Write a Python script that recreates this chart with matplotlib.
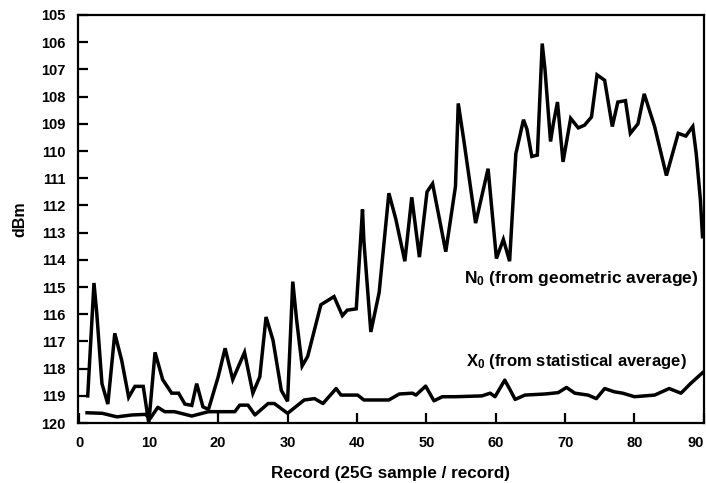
import matplotlib
matplotlib.use("Agg")
import matplotlib.pyplot as plt

plt.rcParams['font.family'] = ['Liberation Sans', 'DejaVu Sans']
plt.rcParams['font.weight'] = 'bold'
plt.rcParams['mathtext.default'] = 'regular'

# N0 trace (geometric average), record number vs dBm
n0_rec = [1.2, 2.1, 2.5, 3.25, 4.1, 5.1, 6.1, 7.1, 8.0, 9.2, 10.0, 10.9, 12.0,
          13.3, 14.3, 15.2, 16.2, 16.9, 17.8, 18.6, 20.0, 21.0, 22.1, 23.8,
          25.0, 26.0, 26.9, 27.9, 29.1, 30.0, 30.75, 31.3, 32.1, 32.9, 34.8,
          36.7, 37.9, 38.6, 39.9, 40.8, 41.0, 42.0, 43.2, 44.6, 45.6, 46.9,
          47.9, 49.0, 50.1, 50.9, 52.8, 54.2, 54.6, 55.4, 57.1, 58.9, 60.1,
          61.1, 62.0, 62.9, 64.0, 64.5, 65.2, 66.0, 66.7, 67.1, 67.9, 68.3,
          68.9, 69.7, 70.8, 71.9, 72.8, 73.8, 74.6, 75.7, 76.8, 77.6, 78.7,
          79.4, 80.5, 81.4, 82.9, 84.6, 86.3, 87.4, 88.4, 88.9, 89.5, 89.8]
n0_dbm = [119.0, 114.85, 115.95, 118.55, 119.3, 116.7, 117.7, 119.05, 118.65,
          118.65, 120.0, 117.4, 118.4, 118.9, 118.9, 119.3, 119.35, 118.55,
          119.4, 119.5, 118.3, 117.25, 118.4, 117.4, 118.9, 118.3, 116.1,
          116.95, 118.8, 119.2, 114.8, 116.2, 117.9, 117.55, 115.65, 115.35,
          116.05, 115.85, 115.8, 112.15, 113.3, 116.65, 115.2, 111.55, 112.5,
          114.05, 111.7, 113.9, 111.5, 111.2, 113.7, 111.3, 108.25, 109.6,
          112.65, 110.65, 113.95, 113.25, 114.05, 110.1, 108.85, 109.2, 110.2,
          110.15, 106.05, 107.0, 109.65, 109.0, 108.2, 110.4, 108.8, 109.15,
          109.05, 108.75, 107.2, 107.4, 109.1, 108.2, 108.15, 109.35, 109.0,
          107.9, 109.1, 110.9, 109.35, 109.45, 109.1, 110.1, 111.8, 113.15]

# X0 trace (statistical average)
x0_rec = [1.1, 3.3, 5.4, 7.6, 9.5, 10.2, 11.3, 12.3, 13.7, 16.2, 18.6, 22.4,
          23.1, 24.3, 25.3, 27.2, 28.1, 30.0, 32.4, 33.9, 35.1, 37.0, 37.7,
          40.1, 41.0, 44.6, 46.1, 48.0, 48.5, 49.9, 51.1, 52.3, 54.2, 58.0,
          59.2, 59.9, 61.3, 62.1, 62.8, 64.2, 67.1, 69.0, 70.2, 71.4, 73.3,
          74.5, 75.7, 77.1, 78.3, 80.0, 82.9, 85.0, 86.7, 88.1, 89.8]
x0_dbm = [119.62, 119.64, 119.77, 119.7, 119.68, 119.83, 119.42, 119.58,
          119.58, 119.74, 119.58, 119.58, 119.34, 119.34, 119.7, 119.28,
          119.28, 119.64, 119.15, 119.1, 119.28, 118.73, 118.97, 118.97,
          119.15, 119.15, 118.93, 118.9, 118.97, 118.64, 119.18, 119.03,
          119.03, 119.0, 118.9, 119.03, 118.42, 118.79, 119.13, 118.97,
          118.93, 118.88, 118.69, 118.9, 118.97, 119.1, 118.73, 118.85,
          118.9, 119.03, 118.97, 118.73, 118.9, 118.54, 118.15]

y_ticks = list(range(105, 121))
x_ticks = list(range(0, 91, 10))

fig = plt.figure(figsize=(7.06, 4.83), dpi=100)
ax = fig.add_axes([0.1105, 0.124, 0.8865, 0.845])

ax.plot(n0_rec, n0_dbm, color='black', linewidth=2.5, solid_joinstyle='miter')
ax.plot(x0_rec, x0_dbm, color='black', linewidth=2.5)

ax.set_xlim(-0.2, 89.8)
ax.set_ylim(120, 105)
ax.set_xticks(x_ticks)
ax.set_yticks(y_ticks)
ax.tick_params(direction='in', length=7, width=1.6, labelsize=10.5, pad=9)
for lbl in ax.get_xticklabels() + ax.get_yticklabels():
    lbl.set_fontweight('bold')
# keep the last record label inside the figure
ax.get_xticklabels()[-1].set_horizontalalignment('right')
for sp in ax.spines.values():
    sp.set_linewidth(1.6)

ax.set_ylabel('dBm', fontsize=11.5, fontweight='bold', labelpad=10)
ax.set_xlabel('Record (25G sample / record)', fontsize=12.3, fontweight='bold',
              labelpad=12)

ax.text(89.3, 114.7, 'N$_0$ (from geometric average)', ha='right', va='center',
        fontsize=12.5, fontweight='bold')
ax.text(87.5, 117.75, 'X$_0$ (from statistical average)', ha='right',
        va='center', fontsize=12, fontweight='bold')

fig.savefig('out.png', dpi=100)
